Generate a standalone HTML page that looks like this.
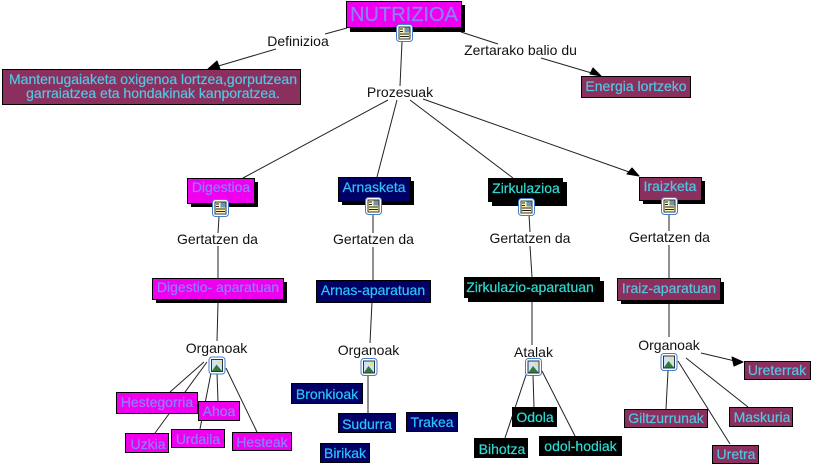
<!DOCTYPE html>
<html><head><meta charset="utf-8"><style>
html,body{margin:0;padding:0;background:#fff}
svg{display:block;font-family:"Liberation Sans",sans-serif}
.l{stroke:#222;stroke-width:1;fill:none}
.b{stroke:#000;stroke-width:1}
.m{fill:#ee00ee}.n{fill:#000066}.k{fill:#000}.r{fill:#8b2f5f}
.tm{fill:#8a80ff;stroke:#8a80ff;stroke-width:.2}.tn{fill:#2cc4fa;stroke:#2cc4fa;stroke-width:.2}.tk{fill:#2cdcd4;stroke:#2cdcd4;stroke-width:.2}.tr{fill:#52c6e2;stroke:#52c6e2;stroke-width:.2}
text{font-size:14px;text-anchor:middle}
.lb{fill:#111}
.a{fill:#000;stroke:#000;stroke-width:1;stroke-linejoin:round}
</style></head><body>
<svg width="813" height="465" viewBox="0 0 813 465" xmlns="http://www.w3.org/2000/svg">
<defs>
<g id="doc"><rect x=".5" y=".5" width="16" height="17" rx="3" fill="#fff" stroke="#3f7fd0"/><rect x="3" y="3" width="11" height="12" fill="#fbf6b8" stroke="#222" stroke-width=".9"/><rect x="8.500" y="3.500" width="5" height="5" fill="#6f93b0"/><path d="M4 5h3M4 7.500h3M4 10h9M4 12.500h9" stroke="#222" stroke-width=".9"/></g>
<g id="img"><rect x=".5" y=".5" width="16" height="17" rx="3" fill="#fff" stroke="#3f7fd0"/><rect x="3" y="3" width="11" height="12" fill="#cfe3f2" stroke="#123" stroke-width=".9"/><circle cx="11" cy="6" r="1.500" fill="#efe060"/><path d="M3.500 14.500L8 8l5.500 6.500z" fill="#2f7a3c"/></g>
</defs>
<g class="l">
<path d="M347 28L325 34M276 49L215 67"/>
<path d="M402 42L400 86"/>
<path d="M461 32L498 44M541 58L595 74"/>
<path d="M388 100L243 178M397 100L377 177M410 100L513 178M423 99L632 173"/>
<path d="M219 217L218 233M218 246L218 278M373 214V233M373 247V280M529 214L530 232M530 246L532 277M669 213V231M669 245V278"/>
<path d="M218 303L217 341M372 302L370 343M532 302V345M669 304V337"/>
<path d="M204 362L170 392M207 362L155 433M211 373L200 429M217 373L218 401M226 368L257 432"/>
<path d="M368 376V413"/>
<path d="M526 375L505 438M533 375L534 407M542 371L575 436"/>
<path d="M668 371L666 409M678 361L730 444M686 358L748 407M701 353L735 361"/>
</g>
<path class="a" d="M208 69L217 61L220 69z"/>
<path class="a" d="M593 68L590 74L601 76z"/>
<path class="a" d="M639 176L632 168L627 174z"/>
<path class="a" d="M743 362L732 357L734 366z"/>

<rect x="350" y="5" width="115" height="27" fill="#000"/>
<rect class="b m" x="346.500" y="1.500" width="115" height="26"/>
<text class="tm" x="404" y="21" style="font-size:20px">NUTRIZIOA</text>
<use href="#doc" x="396" y="24"/>

<rect class="b r" x="2.500" y="69.500" width="298" height="35"/>
<text class="tr" x="153" y="84">Mantenugaiaketa oxigenoa lortzea,gorputzean</text>
<text class="tr" x="153" y="98">garraiatzea eta hondakinak kanporatzea.</text>

<rect class="b r" x="581.500" y="76.500" width="109" height="21"/>
<text class="tr" x="636" y="91">Energia lortzeko</text>

<text class="lb" x="298" y="46">Definizioa</text>
<text class="lb" x="400" y="97">Prozesuak</text>
<text class="lb" x="520.500" y="55">Zertarako balio du</text>

<rect x="191" y="182" width="67" height="25" fill="#000"/>
<rect class="b m" x="187.500" y="178.500" width="67" height="25"/>
<text class="tm" x="221" y="192">Digestioa</text>
<use href="#doc" x="212" y="199"/>

<rect x="342" y="181" width="72" height="24" fill="#000"/>
<rect class="b n" x="338.500" y="177.500" width="72" height="24"/>
<text class="tn" x="374" y="192">Arnasketa</text>
<use href="#doc" x="365" y="197"/>

<rect x="492" y="182" width="75" height="24" fill="#000"/>
<rect class="k" x="488" y="178" width="75" height="24"/>
<text class="tk" x="526" y="193">Zirkulazioa</text>
<use href="#doc" x="518" y="198"/>

<rect x="643" y="181" width="62" height="23" fill="#000"/>
<rect class="b r" x="639.500" y="177.500" width="62" height="23"/>
<text class="tr" x="670" y="191">Iraizketa</text>
<use href="#doc" x="661" y="197"/>

<text class="lb" x="217.500" y="244">Gertatzen da</text>
<text class="lb" x="373.500" y="244">Gertatzen da</text>
<text class="lb" x="530" y="243">Gertatzen da</text>
<text class="lb" x="669.500" y="242">Gertatzen da</text>

<rect x="156" y="282" width="131" height="21" fill="#000"/>
<rect class="b m" x="152.500" y="278.500" width="131" height="21"/>
<text class="tm" x="218" y="292">Digestio- aparatuan</text>

<rect class="b n" x="316.500" y="280.500" width="114" height="22"/>
<text class="tn" x="373" y="295">Arnas-aparatuan</text>

<rect x="468" y="281" width="136" height="21" fill="#000"/>
<rect class="k" x="464" y="277" width="136" height="21"/>
<text class="tk" x="530" y="292">Zirkulazio-aparatuan</text>

<rect x="621" y="282" width="103" height="22" fill="#000"/>
<rect class="b r" x="617.500" y="278.500" width="103" height="22"/>
<text class="tr" x="669" y="293">Iraiz-aparatuan</text>

<text class="lb" x="216.500" y="353">Organoak</text>
<text class="lb" x="368.500" y="355">Organoak</text>
<text class="lb" x="533.500" y="357">Atalak</text>
<text class="lb" x="669" y="350">Organoak</text>

<use href="#img" x="208.500" y="356.500"/>
<use href="#img" x="360.500" y="358"/>
<use href="#img" x="525" y="358"/>
<use href="#img" x="660.500" y="353"/>

<rect class="b m" x="116.500" y="392.500" width="81" height="21"/>
<text class="tm" x="157" y="407">Hestegorria</text>
<rect class="b m" x="198.500" y="401.500" width="41" height="19"/>
<text class="tm" x="219" y="416">Ahoa</text>
<rect class="b m" x="125.500" y="433.500" width="43" height="19"/>
<text class="tm" x="148" y="449">Uzkia</text>
<rect class="b m" x="171.500" y="429.500" width="53" height="18"/>
<text class="tm" x="198" y="444">Urdaila</text>
<rect class="b m" x="232.500" y="432.500" width="59" height="18"/>
<text class="tm" x="262" y="447">Hesteak</text>

<rect class="b n" x="291.500" y="383.500" width="71" height="20"/>
<text class="tn" x="327" y="399">Bronkioak</text>
<rect class="b n" x="338.500" y="413.500" width="57" height="19"/>
<text class="tn" x="367" y="429">Sudurra</text>
<rect class="b n" x="406.500" y="412.500" width="51" height="19"/>
<text class="tn" x="432" y="427">Trakea</text>
<rect class="b n" x="320.500" y="443.500" width="49" height="19"/>
<text class="tn" x="345" y="458">Birikak</text>

<rect class="k" x="512" y="407" width="45" height="20"/>
<text class="tk" x="535" y="422">Odola</text>
<rect class="k" x="474" y="438" width="54" height="20"/>
<text class="tk" x="502" y="454">Bihotza</text>
<rect class="k" x="539" y="436" width="83" height="20"/>
<text class="tk" x="580.500" y="451">odol-hodiak</text>

<rect class="b r" x="744.500" y="361.500" width="66" height="18"/>
<text class="tr" x="777" y="375">Ureterrak</text>
<rect class="b r" x="729.500" y="407.500" width="63" height="19"/>
<text class="tr" x="762" y="422">Maskuria</text>
<rect class="b r" x="624.500" y="409.500" width="83" height="18"/>
<text class="tr" x="666" y="423">Giltzurrunak</text>
<rect class="b r" x="712.500" y="445.500" width="46" height="18"/>
<text class="tr" x="736" y="459">Uretra</text>
</svg>
</body></html>
